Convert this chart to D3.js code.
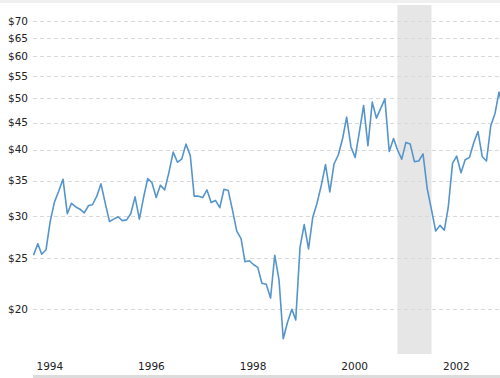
<!DOCTYPE html>
<html>
<head>
<meta charset="utf-8">
<script src="https://cdn.jsdelivr.net/npm/d3@7"></script>
<style>
    html, body { margin: 0; padding: 0; background: #fff; }
    svg { display: block; font-family: "DejaVu Sans", Verdana, sans-serif; }
    .tick-label { font-size: 10.5px; fill: #222; }
</style>
</head>
<body>
<svg id="chart"></svg>
<script>
// Monthly prices, starting Jan 1994.
const startMonth = new Date(1994, 0, 1);
const prices = [
    25.3, 26.6, 25.4, 25.9, 29.3, 31.9, 33.4, 35.2, 30.3, 31.7, 31.2, 30.9,
    30.4, 31.4, 31.5, 32.7, 34.5, 31.7, 29.3, 29.6, 29.9, 29.4, 29.5, 30.3,
    32.6, 29.6, 32.4, 35.3, 34.7, 32.5, 34.3, 33.6, 36.3, 39.6, 37.9, 38.4,
    41.0, 39.0, 32.7, 32.7, 32.5, 33.6, 31.8, 32.1, 31.1, 33.7, 33.5, 30.8,
    28.1, 27.2, 24.6, 24.7, 24.3, 24.0, 22.4, 22.3, 21.0, 25.3, 22.7, 17.6,
    18.9, 20.0, 19.1, 26.2, 28.9, 26.0, 29.8, 31.7, 34.3, 37.5, 33.3, 37.6,
    39.1, 42.0, 46.1, 40.5, 38.7, 43.3, 48.5, 40.7, 49.2, 45.9, 47.9, 49.9,
    39.7, 42.0, 40.0, 38.4, 41.3, 41.0, 38.0, 38.1, 39.3, 33.8, 30.8, 28.1,
    28.8, 28.2, 31.1, 37.7, 38.9, 36.2, 38.3, 38.7, 41.3, 43.3, 38.8, 38.1,
    44.4, 46.9, 51.4, 47.5
];
const yTicks = [20, 25, 30, 35, 40, 45, 50, 55, 60, 65, 70];
const xTickYears = [1994, 1996, 1998, 2000, 2002];
const recession = [new Date(2001, 2, 1), new Date(2001, 10, 1)];

const width = 500;
const height = 378;
const plotLeft = 33;
const plotTop = 5;
const plotBottom = 354;

const svg = d3.select('#chart').attr('width', width).attr('height', height);

// X scale (time), Y scale (log).
const x = d3.scaleTime()
    .domain([new Date(1994, 0, 1), new Date(2002, 0, 1)])
    .range([33.5, 440]);

const y = d3.scaleLog()
    .domain([20, 70])
    .range([309.3, 21]);

// Top border.
svg.append('rect')
    .attr('x', 0).attr('y', 0)
    .attr('width', width).attr('height', 3)
    .attr('fill', '#f0f0f0');

// Recession band.
svg.append('rect')
    .attr('x', x(recession[0]))
    .attr('y', plotTop)
    .attr('width', x(recession[1]) - x(recession[0]))
    .attr('height', plotBottom - plotTop)
    .attr('fill', '#e6e6e6');

// Grid lines.
svg.append('g')
    .selectAll('line')
    .data(yTicks)
    .enter()
    .append('line')
    .attr('x1', plotLeft)
    .attr('x2', width)
    .attr('y1', d => Math.round(y(d)) + 0.5)
    .attr('y2', d => Math.round(y(d)) + 0.5)
    .attr('stroke', '#d9d9d9')
    .attr('stroke-dasharray', '4,3');

// Y labels.
svg.append('g')
    .selectAll('text')
    .data(yTicks)
    .enter()
    .append('text')
    .attr('class', 'tick-label')
    .attr('x', 28)
    .attr('y', d => y(d))
    .attr('dy', '0.35em')
    .attr('text-anchor', 'end')
    .text(d => '$' + d);

// X labels.
svg.append('g')
    .selectAll('text')
    .data(xTickYears)
    .enter()
    .append('text')
    .attr('class', 'tick-label')
    .attr('x', d => x(new Date(d, 0, 1)) + 3)
    .attr('y', 370)
    .text(d => d);

// Clip for the line.
svg.append('clipPath')
    .attr('id', 'plot-clip')
    .append('rect')
    .attr('x', plotLeft)
    .attr('y', 0)
    .attr('width', width - plotLeft)
    .attr('height', plotBottom);

const line = d3.line()
    .x((d, i) => x(d3.timeMonth.offset(startMonth, i)))
    .y(d => y(d));

svg.append('path')
    .datum(prices)
    .attr('clip-path', 'url(#plot-clip)')
    .attr('fill', 'none')
    .attr('stroke', '#5595cb')
    .attr('stroke-width', 1.6)
    .attr('stroke-linejoin', 'round')
    .attr('d', line);

// Navigator strip at the bottom.
svg.append('rect')
    .attr('x', plotLeft)
    .attr('y', 375)
    .attr('width', width - plotLeft)
    .attr('height', 3)
    .attr('fill', '#dcdcdc');
</script>
</body>
</html>
